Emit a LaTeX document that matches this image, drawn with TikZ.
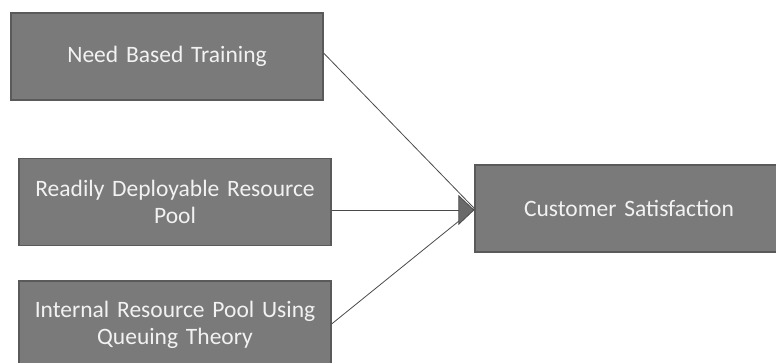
\documentclass[tikz,border=0pt]{standalone}
\usepackage{fontspec}
\setmainfont{Carlito}
\usetikzlibrary{arrows.meta}
\definecolor{boxfill}{HTML}{7A7A7A}
\definecolor{boxline}{HTML}{5A5A5A}
\definecolor{boxtext}{HTML}{F2F2F2}
\definecolor{conn}{HTML}{4A4A4A}
\definecolor{tipfill}{HTML}{6A6A6A}
\begin{document}
\begin{tikzpicture}[x=1pt,y=-1pt,
  factor/.style={draw=boxline, line width=1.2pt, fill=boxfill, text=boxtext,
    minimum width=312pt, minimum height=87pt, align=center, inner sep=0pt,
    font=\fontsize{23.5}{27}\selectfont, text width=308pt},
  link/.style={draw=conn, line width=0.8pt}]
\useasboundingbox (0,0) rectangle (776,362);
\begin{scope}
\clip (0,0) rectangle (776,362);
\node[factor] (a) at (167,56.5) {Need Based Training};
\node[factor] (b) at (175,202) {Readily Deployable Resource\\Pool};
\node[factor] (c) at (175,324.5) {Internal Resource Pool Using\\Queuing Theory};
\node[factor, minimum width=306pt] (d) at (629,208.5) {Customer Satisfaction};
\coordinate (bt) at (b.east |- 0,210);
\coordinate (ct) at (c.east |- 0,324);
\coordinate (at) at (a.east |- 0,53);
\draw[link] (at) -- (d.west);
\draw[link] (ct) -- (d.west);
\draw[link, -{Triangle[length=16pt,width=30pt,fill=tipfill]}] (bt) -- (d.west |- bt);
\end{scope}
\end{tikzpicture}
\end{document}
